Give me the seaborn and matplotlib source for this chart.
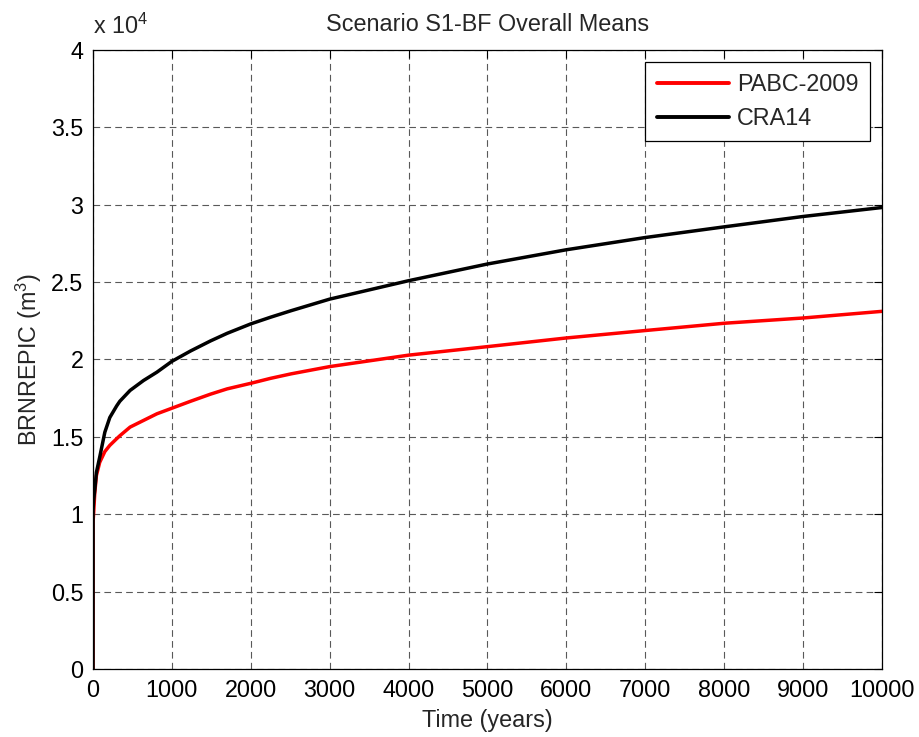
import pandas as pd
import seaborn as sns
import matplotlib.pyplot as plt
from matplotlib.ticker import FuncFormatter

# values (BRNREPIC, m^3)
years = [0, 1, 8, 22, 43, 85, 150, 213, 300, 340, 470, 640, 810, 1000, 1237,
         1490, 1700, 2000, 2250, 2510, 3000, 4000, 5000, 6000, 7000, 8000,
         9000, 10000]
pabc = [0, 9500, 10060, 11350, 12500, 13350, 14050, 14450, 14880, 15070, 15630,
        16060, 16490, 16850, 17300, 17760, 18100, 18460, 18780, 19070, 19540,
        20280, 20830, 21390, 21870, 22340, 22680, 23110]
cra14 = [0, 10300, 10900, 11550, 12700, 13690, 15300, 16250, 17000, 17300, 18000,
         18640, 19180, 19880, 20550, 21200, 21690, 22300, 22730, 23150, 23900,
         25090, 26170, 27090, 27880, 28570, 29240, 29820]
series = ['PABC-2009', 'CRA14']
colors = ['#ff0000', '#000000']

sns.set_style('white')
plt.rcParams['font.family'] = ['Liberation Sans', 'DejaVu Sans']
plt.rcParams['mathtext.fontset'] = 'custom'
plt.rcParams['mathtext.rm'] = 'Liberation Sans'
plt.rcParams['mathtext.it'] = 'Liberation Sans'
plt.rcParams['mathtext.default'] = 'regular'

df = pd.concat([
    pd.DataFrame({'Time': years, 'val': pabc, 'case': series[0]}),
    pd.DataFrame({'Time': years, 'val': cra14, 'case': series[1]}),
])

fs = 16.8
fig = plt.figure(figsize=(9.19, 7.37), dpi=100)
ax = fig.add_axes([0.1012, 0.0923, 0.8585, 0.8399])

sns.lineplot(data=df, x='Time', y='val', hue='case', hue_order=series,
             palette=colors, linewidth=2.5, ax=ax, estimator=None, sort=False)

ax.set_xlim(0, 10000)
ax.set_ylim(0, 40000)
ax.set_xticks(range(0, 10001, 1000))
ax.set_yticks(range(0, 40001, 5000))
ax.yaxis.set_major_formatter(FuncFormatter(lambda v, p: ('%g' % (v / 1e4))))
ax.tick_params(direction='in', length=6, width=0.8, top=True, right=True,
               labelsize=fs, color='black', labelcolor='black', pad=7)
ax.grid(True, color='0.35', linestyle=(0, (6, 3.8)), linewidth=0.8)
for s in ax.spines.values():
    s.set_visible(True)
    s.set_color('black')
    s.set_linewidth(0.9)

ax.set_title('Scenario S1-BF Overall Means', fontsize=fs, pad=14)
ax.set_xlabel('Time (years)', fontsize=fs, labelpad=5)
ax.set_ylabel('BRNREPIC (m$^3$)', fontsize=fs, labelpad=5)
ax.text(0.0, 1.018, 'x 10$^4$', transform=ax.transAxes, fontsize=fs,
        ha='left', va='bottom')

leg = ax.legend(loc='upper right', fontsize=fs, frameon=True, fancybox=False,
                framealpha=1, edgecolor='black', handlelength=3.1,
                handletextpad=0.35, labelspacing=0.45, borderpad=0.5,
                borderaxespad=0.5)
leg.get_frame().set_linewidth(0.9)
for h in leg.get_lines():
    h.set_linewidth(2.8)

fig.savefig('out.png', dpi=100)
